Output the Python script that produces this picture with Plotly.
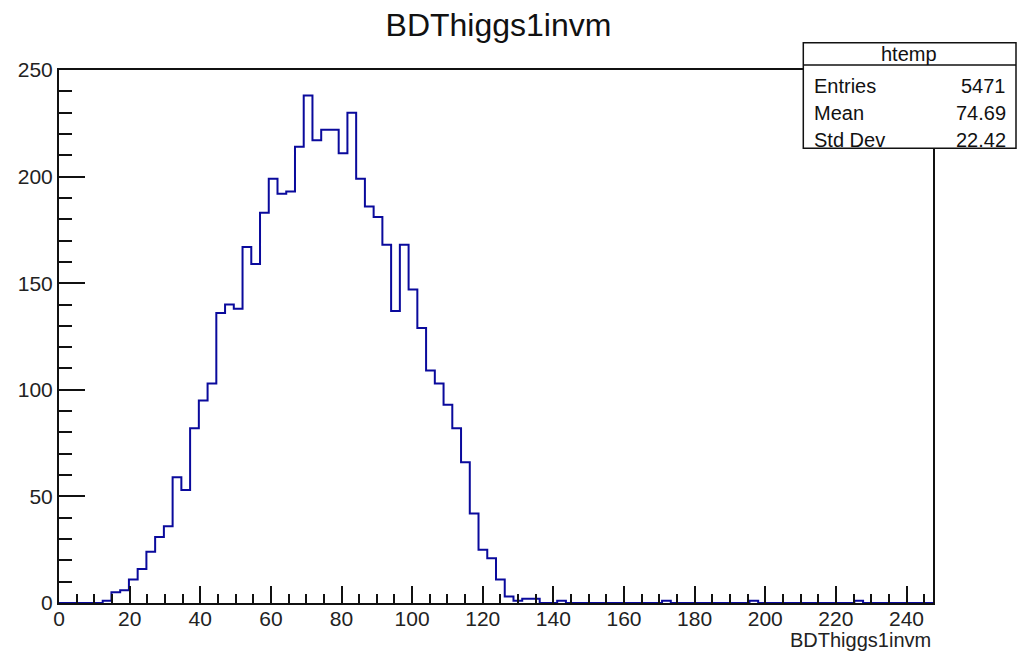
import plotly.graph_objects as go

# ---- data ----
hist_name = "htemp"
var_name = "BDThiggs1invm"
x_min = 0.0
x_max = 247.5
n_bins = 100
counts = [
    0, 0, 0, 0, 0, 1, 5, 6, 11, 16,
    24, 31, 36, 59, 53, 82, 95, 103, 136, 140,
    138, 167, 159, 183, 199, 192, 193, 214, 238, 217,
    222, 222, 211, 230, 199, 186, 181, 168, 137, 168,
    147, 129, 109, 103, 93, 82, 66, 42, 25, 21,
    11, 3, 1, 2, 2, 0, 0, 1, 0, 0,
    0, 0, 0, 0, 0, 0, 0, 0, 0, 1,
    0, 0, 0, 0, 0, 0, 0, 0, 0, 1,
    0, 0, 0, 0, 0, 0, 0, 0, 0, 0,
    0, 1, 0, 0, 0, 0, 0, 0, 0, 0,
]
stat_labels = ["Entries", "Mean", "Std Dev"]
stat_values = ["5471", "74.69", "22.42"]
y_max = 250

# ---- figure ----
width = (x_max - x_min) / n_bins
edges = [x_min + i * width for i in range(n_bins + 1)]
xs = [x_min] + edges
ys = [0] + counts + [counts[-1]]

FONT = "Liberation Sans, Arial, Helvetica, sans-serif"
W, H = 1017, 656
L, R, T, B = 59, 84, 70, 53
pw, ph = W - L - R, H - T - B

def px(xp):
    return (xp - L) / pw

def py(yp):
    return (H - B - yp) / ph

fig = go.Figure()
fig.add_trace(go.Scatter(
    x=xs, y=ys, mode="lines", line=dict(shape="hv", color="#0a0a9c", width=2),
    hoverinfo="skip", showlegend=False,
))

axis_common = dict(
    showline=True, linecolor="#111", linewidth=2, mirror=True,
    showgrid=False, zeroline=False, ticks="inside", tickcolor="#111", tickwidth=2,
    tickfont=dict(family=FONT, size=21, color="#222"),
)
fig.update_layout(
    width=W, height=H, autosize=False,
    margin=dict(l=L, r=R, t=T, b=B),
    paper_bgcolor="white", plot_bgcolor="white",
    xaxis=dict(range=[x_min, x_max], dtick=20, tick0=0, ticklen=17, ticklabelstandoff=-4,
               minor=dict(dtick=5, ticklen=9, ticks="inside", tickcolor="#111", tickwidth=1.5),
               **axis_common),
    yaxis=dict(range=[0, y_max], dtick=50, tick0=0, ticklen=26,
               minor=dict(dtick=10, ticklen=13, ticks="inside", tickcolor="#111", tickwidth=1.5),
               **axis_common),
    title=dict(text=var_name, x=498.5 / W, xref="container", xanchor="center",
               y=1 - 25 / H, yref="container", yanchor="middle",
               font=dict(family=FONT, size=32, color="#111")),
)

# x-axis title
fig.add_annotation(text=var_name, xref="paper", yref="paper", x=1.0, y=py(640),
                   xanchor="right", yanchor="middle", showarrow=False,
                   font=dict(family=FONT, size=20, color="#222"))

# stats box
bx0, bx1, by0, by1, bsep = 803.3, 1016, 42.7, 148.3, 65
fig.add_shape(type="rect", xref="paper", yref="paper", x0=px(bx0), x1=px(bx1),
              y0=py(by1), y1=py(by0), fillcolor="white", line=dict(color="#111", width=1.5),
              layer="above")
fig.add_shape(type="line", xref="paper", yref="paper", x0=px(bx0), x1=px(bx1),
              y0=py(bsep), y1=py(bsep), line=dict(color="#111", width=1.5), layer="above")
fig.add_annotation(text=hist_name, xref="paper", yref="paper", x=px(908.5), y=py(54),
                   xanchor="center", yanchor="middle", showarrow=False,
                   font=dict(family=FONT, size=20, color="#111"))
row_y = [86, 113, 140]
for lab, val, yy in zip(stat_labels, stat_values, row_y):
    fig.add_annotation(text=lab, xref="paper", yref="paper", x=px(812), y=py(yy),
                       xanchor="left", yanchor="middle", showarrow=False,
                       font=dict(family=FONT, size=20, color="#111"))
    fig.add_annotation(text=val, xref="paper", yref="paper", x=px(1008), y=py(yy),
                       xanchor="right", yanchor="middle", showarrow=False,
                       font=dict(family=FONT, size=20, color="#111"))

fig.write_html(
    "out.html",
    config={"displayModeBar": False},
    post_script="document.body.style.margin='0';document.body.style.overflow='hidden';",
)
